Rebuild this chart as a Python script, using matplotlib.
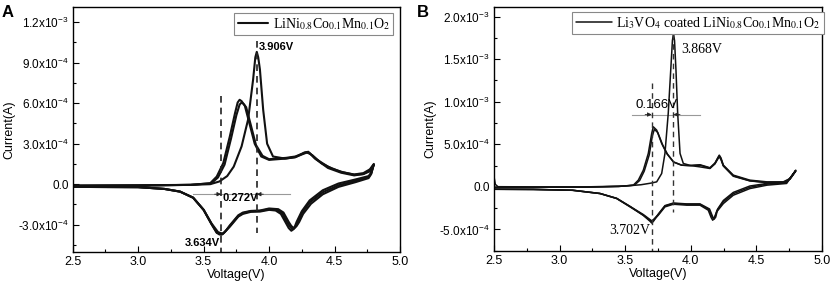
import numpy as np
import matplotlib
matplotlib.use('Agg')
import matplotlib.pyplot as plt
from matplotlib.ticker import AutoMinorLocator

plt.rcParams['font.family'] = ['Liberation Sans', 'DejaVu Sans']
plt.rcParams['mathtext.fontset'] = 'custom'
plt.rcParams['mathtext.rm'] = 'Liberation Sans'
plt.rcParams['mathtext.it'] = 'Liberation Sans:italic'
plt.rcParams['mathtext.bf'] = 'Liberation Sans:bold'

UNIT = 1e-4  # currents below are in units of 1e-4 A

# ---------------- Panel A : bare LiNi0.8Co0.1Mn0.1O2 ----------------
# cycle 1 (sharp oxidation peak at 3.906 V)
vA1_ox = [2.50, 3.00, 3.40, 3.55, 3.62, 3.68, 3.73, 3.79, 3.84, 3.878, 3.895, 3.906, 3.917, 3.93,
          3.955, 3.985, 4.03, 4.12, 4.20, 4.25, 4.29, 4.33, 4.40, 4.48, 4.56, 4.65, 4.72, 4.77, 4.80]
iA1_ox = [-0.10, -0.08, -0.05, 0.00, 0.20, 0.60, 1.30, 2.80, 4.80, 7.75, 9.40, 9.80, 9.40, 8.50,
          5.50, 3.00, 2.05, 1.90, 2.00, 2.20, 2.35, 2.15, 1.55, 1.15, 0.90, 0.70, 0.75, 0.95, 1.45]
vA1_red = [4.80, 4.78, 4.76, 4.66, 4.53, 4.41, 4.31, 4.25, 4.21, 4.19, 4.17, 4.15, 4.13, 4.09, 4.05,
           4.00, 3.93, 3.86, 3.80, 3.765, 3.70, 3.66, 3.645, 3.634, 3.62, 3.60, 3.56, 3.50, 3.42,
           3.32, 3.20, 3.00, 2.50]
iA1_red = [1.45, 0.85, 0.60, 0.35, 0.05, -0.45, -1.20, -2.00, -2.80, -3.30, -3.45, -3.25, -2.90,
           -2.20, -1.95, -1.90, -2.03, -2.05, -2.20, -2.40, -3.15, -3.55, -3.70, -3.75, -3.72,
           -3.60, -2.95, -1.90, -1.00, -0.55, -0.35, -0.22, -0.20]

# cycle 2
vA2_ox = [2.50, 3.00, 3.40, 3.55, 3.60, 3.65, 3.70, 3.74, 3.76, 3.775, 3.79, 3.815, 3.85, 3.89,
          3.94, 4.00, 4.13, 4.20, 4.27, 4.30, 4.35, 4.45, 4.55, 4.65, 4.72, 4.77, 4.80]
iA2_ox = [-0.12, -0.10, -0.05, 0.07, 0.56, 1.56, 3.53, 5.27, 6.05, 6.25, 6.15, 5.80, 4.50, 3.00,
          2.05, 1.80, 1.90, 2.00, 2.35, 2.40, 1.90, 1.20, 0.85, 0.65, 0.75, 1.05, 1.45]
vA2_red = [4.80, 4.78, 4.76, 4.66, 4.53, 4.41, 4.31, 4.25, 4.22, 4.20, 4.18, 4.16, 4.14, 4.10, 4.06,
           4.00, 3.93, 3.86, 3.80, 3.765, 3.70, 3.665, 3.65, 3.64, 3.625, 3.60, 3.56, 3.50, 3.42,
           3.32, 3.20, 3.00, 2.50]
iA2_red = [1.45, 0.80, 0.52, 0.25, -0.08, -0.60, -1.35, -2.15, -2.85, -3.20, -3.35, -3.15, -2.85,
           -2.15, -1.90, -1.85, -1.98, -2.00, -2.15, -2.35, -3.10, -3.50, -3.65, -3.70, -3.66,
           -3.58, -2.95, -1.90, -1.00, -0.55, -0.35, -0.22, -0.20]

# cycle 3
vA3_ox = [2.50, 3.00, 3.40, 3.56, 3.61, 3.66, 3.71, 3.75, 3.775, 3.79, 3.805, 3.825, 3.86, 3.90,
          3.95, 4.00, 4.13, 4.20, 4.28, 4.31, 4.36, 4.45, 4.55, 4.65, 4.72, 4.77, 4.80]
iA3_ox = [-0.12, -0.10, -0.05, 0.07, 0.50, 1.45, 3.40, 5.10, 5.90, 6.05, 5.95, 5.70, 4.40, 2.90,
          2.10, 1.85, 1.95, 2.05, 2.35, 2.30, 1.85, 1.30, 0.90, 0.72, 0.82, 1.10, 1.50]
vA3_red = [4.80, 4.78, 4.76, 4.66, 4.53, 4.41, 4.32, 4.26, 4.23, 4.21, 4.19, 4.17, 4.15, 4.11, 4.07,
           4.00, 3.93, 3.86, 3.80, 3.765, 3.70, 3.67, 3.655, 3.645, 3.63, 3.61, 3.56, 3.50, 3.42,
           3.32, 3.20, 3.00, 2.50]
iA3_red = [1.50, 0.75, 0.45, 0.15, -0.20, -0.75, -1.45, -2.20, -2.80, -3.10, -3.25, -3.10, -2.80,
           -2.10, -1.85, -1.80, -1.95, -1.98, -2.10, -2.30, -3.05, -3.45, -3.60, -3.65, -3.62,
           -3.55, -2.90, -1.90, -1.00, -0.55, -0.35, -0.22, -0.20]

# ---------------- Panel B : Li3VO4 coated ----------------
vB1_ox = [2.50, 2.51, 2.53, 2.80, 3.20, 3.50, 3.62, 3.70, 3.74, 3.778, 3.803, 3.828, 3.847, 3.86,
          3.868, 3.876, 3.887, 3.90, 3.918, 3.943, 4.00, 4.07, 4.146, 4.184, 4.205, 4.217, 4.23,
          4.248, 4.324, 4.45, 4.58, 4.705, 4.756, 4.80]
iB1_ox = [1.20, 0.30, 0.02, 0.00, 0.00, 0.10, 0.25, 0.45, 0.59, 1.57, 3.93, 8.63, 13.70, 17.20,
          18.00, 17.20, 13.70, 8.63, 3.93, 2.75, 2.50, 2.35, 2.16, 2.75, 3.40, 3.73, 3.40,
          2.55, 1.38, 0.79, 0.59, 0.59, 0.98, 1.96]
vB1_red = [4.80, 4.73, 4.58, 4.45, 4.324, 4.248, 4.197, 4.178, 4.167, 4.155, 4.133, 4.07, 3.969,
           3.867, 3.803, 3.752, 3.715, 3.702, 3.69, 3.638, 3.537, 3.435, 3.308, 3.10, 2.80, 2.50]
iB1_red = [1.96, 0.40, 0.20, -0.20, -0.98, -1.96, -2.94, -3.70, -3.92, -3.60, -2.74, -2.15, -2.15,
           -2.04, -2.35, -3.33, -3.95, -4.12, -3.95, -3.33, -2.35, -1.37, -0.78, -0.40, -0.30, -0.28]

vB2_ox = [2.50, 2.80, 3.20, 3.45, 3.562, 3.60, 3.638, 3.676, 3.702, 3.714, 3.74, 3.778, 3.816,
          3.867, 3.93, 3.99, 4.07, 4.146, 4.184, 4.205, 4.217, 4.23, 4.248, 4.324, 4.45, 4.58,
          4.705, 4.756, 4.80]
iB2_ox = [-0.05, -0.05, -0.03, 0.05, 0.20, 0.79, 1.96, 3.93, 6.28, 7.06, 6.67, 5.10, 3.93,
          2.94, 2.55, 2.50, 2.60, 2.25, 2.80, 3.35, 3.65, 3.30, 2.50, 1.30, 0.72, 0.52, 0.52,
          0.92, 1.90]
vB2_red = [4.80, 4.73, 4.58, 4.45, 4.324, 4.248, 4.20, 4.183, 4.172, 4.16, 4.138, 4.07, 3.969,
           3.867, 3.803, 3.752, 3.715, 3.702, 3.69, 3.638, 3.537, 3.435, 3.308, 3.10, 2.80, 2.50]
iB2_red = [1.90, 0.50, 0.32, -0.05, -0.80, -1.75, -2.75, -3.55, -3.75, -3.45, -2.65, -2.05, -2.05,
           -1.95, -2.25, -3.25, -3.85, -4.00, -3.85, -3.25, -2.30, -1.35, -0.78, -0.40, -0.30, -0.28]

vB3_ox = [2.50, 2.80, 3.20, 3.45, 3.57, 3.61, 3.645, 3.683, 3.707, 3.722, 3.748, 3.785, 3.822,
          3.87, 3.93, 3.99, 4.07, 4.146, 4.184, 4.205, 4.217, 4.23, 4.248, 4.324, 4.45, 4.58,
          4.705, 4.756, 4.80]
iB3_ox = [-0.05, -0.05, -0.03, 0.05, 0.20, 0.75, 1.85, 3.75, 6.00, 6.75, 6.40, 4.95, 3.85,
          2.90, 2.55, 2.50, 2.55, 2.20, 2.70, 3.25, 3.55, 3.20, 2.45, 1.25, 0.70, 0.50, 0.50,
          0.90, 1.85]
vB3_red = [4.80, 4.73, 4.58, 4.45, 4.324, 4.248, 4.205, 4.19, 4.178, 4.165, 4.143, 4.07, 3.969,
           3.867, 3.803, 3.752, 3.715, 3.702, 3.69, 3.638, 3.537, 3.435, 3.308, 3.10, 2.80, 2.50]
iB3_red = [1.85, 0.55, 0.40, 0.10, -0.65, -1.60, -2.60, -3.55, -3.80, -3.45, -2.60, -2.00, -2.00,
           -1.90, -2.20, -3.20, -4.05, -4.25, -4.05, -3.35, -2.30, -1.35, -0.78, -0.40, -0.30, -0.28]

# annotation values
peaksA = [3.634, 3.906]
peaksB = [3.702, 3.868]
yticksA = [-3e-4, 0.0, 3e-4, 6e-4, 9e-4, 1.2e-3]
ylabelsA = ['-3.0x10$^{-4}$', '0.0', '3.0x10$^{-4}$', '6.0x10$^{-4}$', '9.0x10$^{-4}$', '1.2x10$^{-3}$']
yticksB = [-5e-4, 0.0, 5e-4, 1e-3, 1.5e-3, 2e-3]
ylabelsB = ['-5.0x10$^{-4}$', '0.0', '5.0x10$^{-4}$', '1.0x10$^{-3}$', '1.5x10$^{-3}$', '2.0x10$^{-3}$']
xticks = [2.5, 3.0, 3.5, 4.0, 4.5, 5.0]

W, H = 835, 287
fig = plt.figure(figsize=(W / 100, H / 100), dpi=100)
axA = fig.add_axes([72.7 / W, (H - 251.7) / H, 327.3 / W, 244.4 / H])
axB = fig.add_axes([494 / W, (H - 250.7) / H, 328 / W, 243.4 / H])


def cycle(ax, vo, io, vr, ir, lw, label=None):
    v = np.array(vo + vr)
    i = np.array(io + ir) * UNIT
    ax.plot(v, i, color='#111111', lw=lw, label=label,
            solid_joinstyle='round', solid_capstyle='round')


cycle(axA, vA1_ox, iA1_ox, vA1_red, iA1_red, 1.5, 'LiNi$_{0.8}$Co$_{0.1}$Mn$_{0.1}$O$_{2}$')
cycle(axA, vA2_ox, iA2_ox, vA2_red, iA2_red, 1.5)
cycle(axA, vA3_ox, iA3_ox, vA3_red, iA3_red, 1.5)

cycle(axB, vB1_ox, iB1_ox, vB1_red, iB1_red, 1.1,
      'Li$_{3}$VO$_{4}$ coated LiNi$_{0.8}$Co$_{0.1}$Mn$_{0.1}$O$_{2}$')
cycle(axB, vB2_ox, iB2_ox, vB2_red, iB2_red, 1.1)
cycle(axB, vB3_ox, iB3_ox, vB3_red, iB3_red, 1.1)


def arrow_pair(ax, x0, x1, xl, xr, y, head):
    ax.plot([xl, xr], [y, y], color='#999999', lw=0.8, zorder=1)
    ax.annotate('', xy=(x0, y), xytext=(x0 - head, y),
                arrowprops=dict(arrowstyle='-|>', color='#222222', lw=0.6, mutation_scale=6,
                                shrinkA=0, shrinkB=0))
    ax.annotate('', xy=(x1, y), xytext=(x1 + head, y),
                arrowprops=dict(arrowstyle='-|>', color='#222222', lw=0.6, mutation_scale=6,
                                shrinkA=0, shrinkB=0))


# panel A annotations
axA.plot([peaksA[0]] * 2, [6.5e-4, -5e-4], ls=(0, (4, 3)), color='#222222', lw=1.2)
axA.plot([peaksA[1]] * 2, [10.6e-4, -3.6e-4], ls=(0, (4, 3)), color='#222222', lw=1.2)
arrow_pair(axA, peaksA[0], peaksA[1], 3.42, 4.16, -0.74e-4, 0.05)
axA.text(3.645, -1.0e-4, '0.272V', fontsize=8, fontweight='bold', va='center', ha='left')
axA.text(3.925, 10.15e-4, '3.906V', fontsize=8, fontweight='bold', va='center', ha='left')
axA.text(3.625, -4.38e-4, '3.634V', fontsize=8, fontweight='bold', va='center', ha='right')

# panel B annotations
axB.plot([peaksB[0]] * 2, [12.2e-4, -7.5e-4], ls=(0, (4, 3)), color='#333333', lw=1.0)
axB.plot([peaksB[1]] * 2, [18.0e-4, -3.0e-4], ls=(0, (4, 3)), color='#333333', lw=1.0)
arrow_pair(axB, peaksB[0], peaksB[1], 3.55, 4.07, 8.5e-4, 0.05)
axB.text(3.575, 9.6e-4, '0.166V', fontsize=9.5, va='center', ha='left')
axB.text(3.93, 16.1e-4, '3.868V', fontsize=10, va='center', ha='left', family='Liberation Serif')
axB.text(3.69, -5.1e-4, '3.702V', fontsize=10, va='center', ha='right', family='Liberation Serif')

for ax, yt, yl, ylim in [(axA, yticksA, ylabelsA, (-5.0e-4, 13.1e-4)),
                         (axB, yticksB, ylabelsB, (-7.5e-4, 21.1e-4))]:
    ax.set_xlim(2.5, 5.0)
    ax.set_ylim(*ylim)
    ax.set_xticks(xticks)
    ax.set_xticklabels([f'{x:.1f}' for x in xticks])
    ax.set_yticks(yt)
    ax.set_yticklabels(yl)
    ax.xaxis.set_minor_locator(AutoMinorLocator(2))
    ax.yaxis.set_minor_locator(AutoMinorLocator(2))
    ax.tick_params(which='both', direction='in', top=False, right=False, pad=3)
    ax.tick_params(axis='x', labelsize=9)
    ax.tick_params(axis='y', labelsize=8.5)
    ax.tick_params(which='major', length=4, width=0.8)
    ax.tick_params(which='minor', length=2, width=0.8)
    for s in ax.spines.values():
        s.set_linewidth(1.0)
    ax.set_xlabel('Voltage(V)', fontsize=9, labelpad=1)
    ax.set_ylabel('Current(A)', fontsize=9)
    ax.yaxis.set_label_coords(-0.175, 0.5)

legA = axA.legend(loc='upper right', bbox_to_anchor=(0.98, 0.978), borderaxespad=0,
                  prop={'family': 'Liberation Serif', 'size': 10}, fancybox=False,
                  edgecolor='#888888', handlelength=2.2, handletextpad=0.3,
                  borderpad=0.25, framealpha=1)
legB = axB.legend(loc='upper right', bbox_to_anchor=(1.005, 0.982), borderaxespad=0,
                  prop={'family': 'Liberation Serif', 'size': 10}, fancybox=False,
                  edgecolor='#888888', handlelength=2.6, handletextpad=0.3,
                  borderpad=0.25, framealpha=1)
for leg in (legA, legB):
    leg.get_frame().set_linewidth(0.8)
    for t in leg.get_texts():
        t.set_math_fontfamily('stix')

fig.text(2 / W, 1 - 5 / H, 'A', fontsize=12, fontweight='bold', va='top', ha='left')
fig.text(417 / W, 1 - 5 / H, 'B', fontsize=12, fontweight='bold', va='top', ha='left')

fig.savefig('out.png', dpi=100)
